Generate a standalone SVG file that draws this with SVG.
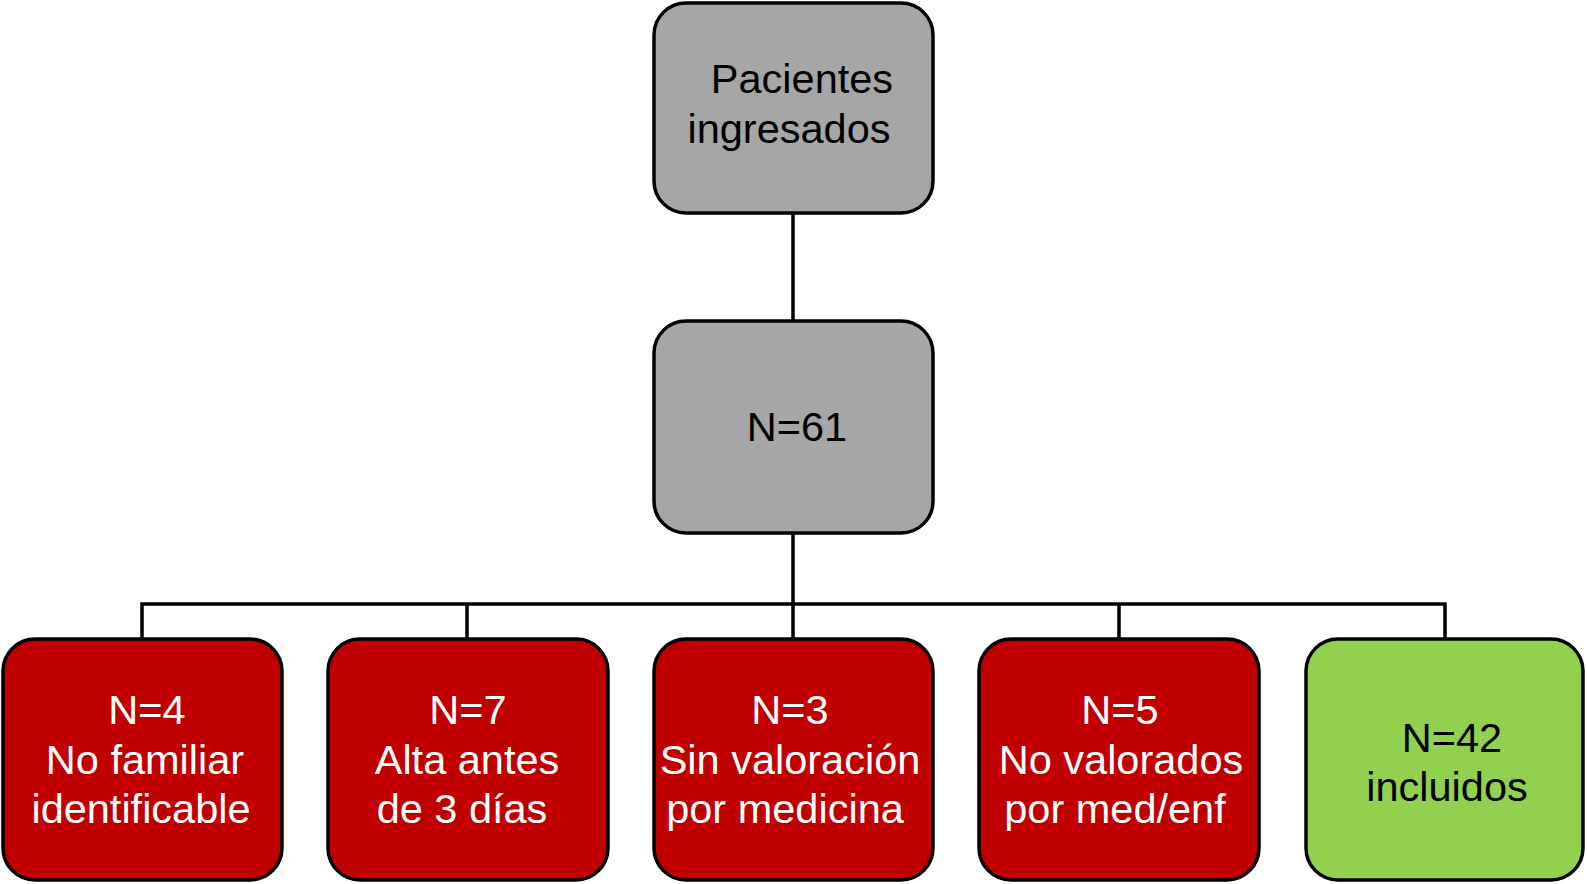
<svg xmlns="http://www.w3.org/2000/svg" width="1587" height="884" viewBox="0 0 1587 884">
<style>
.box{stroke:#000;stroke-width:3.5}
.gray{fill:#a6a6a6}
.red{fill:#c00000}
.green{fill:#92d050}
text{font-family:"Liberation Sans",Arial,sans-serif;font-size:41.5px;text-anchor:middle}
.dark{fill:#000}
.light{fill:#fff}
.conn{stroke:#000;stroke-width:3.5;fill:none}
</style>
<rect width="1587" height="884" fill="#fff"/>
<g id="connectors">
<line class="conn" x1="793" y1="213" x2="793" y2="321"/>
<line class="conn" x1="793" y1="533" x2="793" y2="639"/>
<polyline class="conn" points="142,639 142,604 1445,604 1445,639"/>
<line class="conn" x1="467" y1="604" x2="467" y2="639"/>
<line class="conn" x1="1119" y1="604" x2="1119" y2="639"/>
</g>
<g id="node-pacientes">
<rect class="box gray" x="654" y="3" width="279" height="210" rx="32"/>
<text class="dark" x="802" y="93">Pacientes</text>
<text class="dark" x="789" y="143">ingresados</text>
</g>
<g id="node-n61">
<rect class="box gray" x="654" y="321" width="279" height="212" rx="32"/>
<text class="dark" x="797" y="441">N=61</text>
</g>
<g id="node-n4">
<rect class="box red" x="3" y="639" width="279" height="241" rx="32"/>
<text class="light" x="147" y="724">N=4</text>
<text class="light" x="145" y="774">No familiar</text>
<text class="light" x="141" y="823">identificable</text>
</g>
<g id="node-n7">
<rect class="box red" x="328" y="639" width="280" height="241" rx="32"/>
<text class="light" x="468" y="724">N=7</text>
<text class="light" x="467" y="774">Alta antes</text>
<text class="light" x="462" y="823">de 3 días</text>
</g>
<g id="node-n3">
<rect class="box red" x="654" y="639" width="279" height="241" rx="32"/>
<text class="light" x="790" y="724">N=3</text>
<text class="light" x="790" y="774">Sin valoración</text>
<text class="light" x="785" y="823">por medicina</text>
</g>
<g id="node-n5">
<rect class="box red" x="979" y="639" width="280" height="241" rx="32"/>
<text class="light" x="1120" y="724">N=5</text>
<text class="light" x="1121" y="774">No valorados</text>
<text class="light" x="1115" y="823">por med/enf</text>
</g>
<g id="node-n42">
<rect class="box green" x="1306" y="639" width="277" height="241" rx="32"/>
<text class="dark" x="1452" y="752">N=42</text>
<text class="dark" x="1447" y="801">incluidos</text>
</g>
</svg>
